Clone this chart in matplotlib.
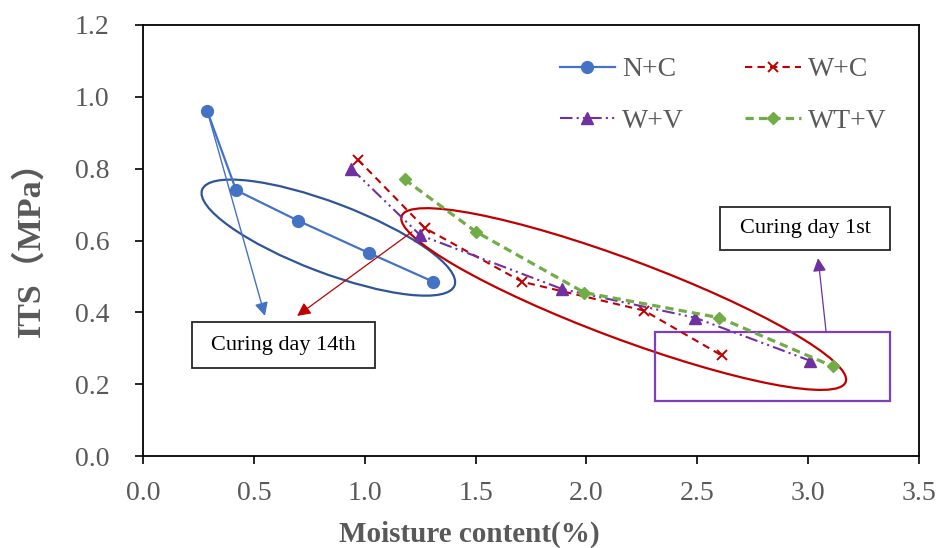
import matplotlib
matplotlib.use("Agg")
import matplotlib.pyplot as plt
import matplotlib.transforms as transforms
from matplotlib.patches import Ellipse, Rectangle

plt.rcParams['font.family'] = ['Liberation Serif', 'Noto Sans CJK SC', 'DejaVu Sans']

# data
nc_x = [0.29, 0.42, 0.70, 1.02, 1.31]
nc_y = [0.96, 0.74, 0.655, 0.565, 0.485]
wc_x = [0.97, 1.27, 1.71, 2.26, 2.61]
wc_y = [0.825, 0.635, 0.485, 0.405, 0.28]
wv_x = [0.94, 1.25, 1.89, 2.49, 3.01]
wv_y = [0.80, 0.615, 0.465, 0.385, 0.265]
wtv_x = [1.18, 1.50, 1.99, 2.60, 3.11]
wtv_y = [0.77, 0.625, 0.455, 0.385, 0.25]

x_ticks = [0.0, 0.5, 1.0, 1.5, 2.0, 2.5, 3.0, 3.5]
y_ticks = [0.0, 0.2, 0.4, 0.6, 0.8, 1.0, 1.2]

gray = '#595959'
blue = '#4472C4'
red = '#C00000'
purple = '#7030A0'
green = '#70AD47'

fig = plt.figure(figsize=(9.39, 5.48), dpi=100)
ax = fig.add_axes([143 / 939, 92 / 548, 776 / 939, 431 / 548])

l1, = ax.plot(nc_x, nc_y, color=blue, lw=1.6, marker='o', ms=8.5, label='N+C')
l2, = ax.plot(wc_x, wc_y, color=red, lw=1.5, dashes=(3.5, 2.5), marker='x', ms=7.5,
              mew=1.4, label='W+C')
l3, = ax.plot(wv_x, wv_y, color=purple, lw=1.5, dashes=(6, 2, 1, 2, 1, 2), marker='^',
              ms=8.5, label='W+V')
l4, = ax.plot(wtv_x, wtv_y, color=green, lw=2.3, dashes=(2.6, 1.6), marker='D', ms=6.5,
              label='WT+V')

ax.set_xlim(0, 3.5)
ax.set_ylim(0, 1.2)
ax.set_xticks(x_ticks)
ax.set_yticks(y_ticks)
ax.set_xticklabels([f'{v:.1f}' for v in x_ticks])
ax.set_yticklabels([f'{v:.1f}' for v in y_ticks])
ax.tick_params(axis='both', direction='out', length=6, width=1.2,
               labelsize=20, labelcolor=gray)
ax.tick_params(axis='x', pad=12)
ax.tick_params(axis='y', pad=18)
for s in ax.spines.values():
    s.set_linewidth(1.3)
    s.set_color('black')

ax.set_xlabel('Moisture content(%)', fontsize=21, fontweight='bold', color=gray)
ax.xaxis.set_label_coords(0.421, -0.182)
ax.xaxis.label.set_va('center')
ax.set_ylabel('ITS（MPa）', fontsize=24.5, fontweight='bold', color=gray)
ax.yaxis.set_label_coords(-0.146, 0.50)
ax.yaxis.label.set_va('center')

# row-wise order: N+C, W+C / W+V, WT+V
leg = ax.legend([l1, l3, l2, l4], ['N+C', 'W+V', 'W+C', 'WT+V'],
                ncol=2, loc='upper left', bbox_to_anchor=(0.537, 0.926),
                frameon=False, fontsize=20, handlelength=2.0, handletextpad=0.25,
                columnspacing=2.2, labelspacing=0.93, borderpad=0, borderaxespad=0)
for t in leg.get_texts():
    t.set_color(gray)

# ellipses (sizes in inches at 100 dpi, drawn around a data-space centre)
e1 = Ellipse((0, 0), width=2.70, height=0.70, angle=-20.8, fill=False,
             edgecolor='#2F5597', lw=1.6,
             transform=fig.dpi_scale_trans + transforms.ScaledTranslation(0.836, 0.608, ax.transData))
ax.add_patch(e1)
e2 = Ellipse((0, 0), width=4.74, height=0.79, angle=-20.5, fill=False,
             edgecolor=red, lw=1.6,
             transform=fig.dpi_scale_trans + transforms.ScaledTranslation(2.168, 0.437, ax.transData))
ax.add_patch(e2)

# purple box around day-1 end points
ax.add_patch(Rectangle((2.309, 0.153), 1.06, 0.192, fill=False,
                       edgecolor='#7E3FB8', lw=1.6))

# arrows
ax.annotate('', xy=(0.55, 0.39), xytext=(nc_x[0], nc_y[0]),
            arrowprops=dict(arrowstyle='-|>', color=blue, lw=1.0,
                            mutation_scale=20, shrinkA=0, shrinkB=0))
ax.annotate('', xy=(0.695, 0.39), xytext=(1.213, 0.624),
            arrowprops=dict(arrowstyle='-|>', color=red, lw=0.9,
                            mutation_scale=20, shrinkA=0, shrinkB=0))
ax.annotate('', xy=(3.045, 0.551), xytext=(3.081, 0.345),
            arrowprops=dict(arrowstyle='-|>', color=purple, lw=0.9,
                            mutation_scale=20, shrinkA=0, shrinkB=0))

# text boxes
ax.add_patch(Rectangle((0.221, 0.245), 0.825, 0.128, fill=False,
                       edgecolor='#262626', lw=1.3))
ax.text(0.634, 0.309, 'Curing day 14th', fontsize=16, ha='center', va='center',
        color='black')
ax.add_patch(Rectangle((2.603, 0.574), 0.766, 0.119, fill=False,
                       edgecolor='#262626', lw=1.3))
ax.text(2.986, 0.634, 'Curing day 1st', fontsize=16, ha='center', va='center',
        color='black')

fig.savefig('out.png', dpi=100)
